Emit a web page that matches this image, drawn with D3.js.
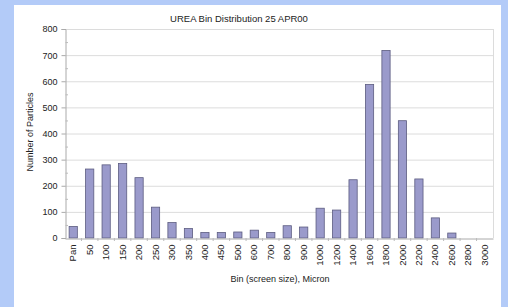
<!DOCTYPE html>
<html>
<head>
<meta charset="utf-8">
<script src="https://cdn.jsdelivr.net/npm/d3@7"></script>
<style>
  body { margin: 0; background: #b3cbf8; }
  svg { display: block; font-family: "Liberation Sans", Arial, sans-serif; }
</style>
</head>
<body>
<svg id="chart" width="508" height="307"></svg>
<script>
// bin labels and particle counts
const bins = ["Pan", "50", "100", "150", "200", "250", "300", "350", "400", "450", "500",
  "600", "700", "800", "900", "1000", "1200", "1400", "1600", "1800", "2000", "2200",
  "2400", "2600", "2800", "3000"];
const counts = [44, 264, 280, 285, 231, 118, 59, 36, 21, 21, 23,
  30, 21, 47, 42, 114, 107, 223, 588, 718, 449, 226,
  77, 19, 0, 0];
const yTicks = [0, 100, 200, 300, 400, 500, 600, 700, 800];

const svg = d3.select("#chart");

// white panel
svg.append("rect")
  .attr("x", 14).attr("y", 5)
  .attr("width", 487).attr("height", 302)
  .attr("fill", "#ffffff");

const margin = {left: 65, top: 29, right: 493, bottom: 238};

const x = d3.scaleBand()
  .domain(bins)
  .range([margin.left, margin.right])
  .paddingInner(0.5)
  .paddingOuter(0.25);

const y = d3.scaleLinear()
  .domain([0, 800])
  .range([margin.bottom, margin.top]);

// gridlines
svg.append("g")
  .selectAll("line")
  .data(yTicks.slice(1))
  .enter().append("line")
  .attr("x1", margin.left).attr("x2", margin.right)
  .attr("y1", d => y(d) + 0.5).attr("y2", d => y(d) + 0.5)
  .attr("stroke", "#dcdcdc").attr("stroke-width", 1);

// plot border (right side)
svg.append("line")
  .attr("x1", margin.right + 0.5).attr("x2", margin.right + 0.5)
  .attr("y1", margin.top).attr("y2", margin.bottom)
  .attr("stroke", "#dcdcdc");

// bars
svg.append("g")
  .selectAll("rect")
  .data(counts)
  .enter().append("rect")
  .attr("x", (d, i) => x(bins[i]))
  .attr("width", x.bandwidth())
  .attr("y", d => y(d))
  .attr("height", d => y(0) - y(d))
  .attr("fill", "#9a9acb")
  .attr("stroke", "#5c5c80")
  .attr("stroke-width", 0.8);

// y axis
const yAxis = svg.append("g")
  .attr("transform", "translate(" + (margin.left + 0.5) + ",0)")
  .call(d3.axisLeft(y).tickValues(yTicks).tickSize(4).tickPadding(4));
yAxis.select(".domain").attr("stroke", "#aaaaaa");
yAxis.selectAll(".tick line").attr("stroke", "#aaaaaa");
yAxis.selectAll("text").attr("font-size", 9).attr("fill", "#222");

// minor ticks on y axis
svg.append("g")
  .selectAll("line")
  .data(d3.range(50, 800, 100))
  .enter().append("line")
  .attr("x1", margin.left + 0.5).attr("x2", margin.left + 3)
  .attr("y1", d => y(d) + 0.5).attr("y2", d => y(d) + 0.5)
  .attr("stroke", "#bbbbbb");

// x axis
const xAxis = svg.append("g")
  .attr("transform", "translate(0," + (margin.bottom + 0.5) + ")")
  .call(d3.axisBottom(x).tickSize(0).tickPadding(4));
xAxis.select(".domain").attr("stroke", "#aaaaaa");
xAxis.selectAll("text")
  .attr("font-size", 9.5)
  .attr("fill", "#222")
  .attr("transform", "rotate(-90)")
  .attr("text-anchor", "end")
  .attr("dy", "0.32em")
  .attr("x", -6)
  .attr("y", 0);

// category separator ticks below axis
const step = x.step();
svg.append("g")
  .selectAll("line")
  .data(bins.slice(0, -1))
  .enter().append("line")
  .attr("x1", d => x(d) + x.bandwidth() / 2 + step / 2)
  .attr("x2", d => x(d) + x.bandwidth() / 2 + step / 2)
  .attr("y1", margin.bottom).attr("y2", margin.bottom + 3)
  .attr("stroke", "#bbbbbb");

// title
svg.append("text")
  .attr("x", 239).attr("y", 22)
  .attr("text-anchor", "middle")
  .attr("font-size", 9.5)
  .attr("fill", "#222")
  .text("UREA Bin Distribution 25 APR00");

// axis titles
svg.append("text")
  .attr("x", 280).attr("y", 282)
  .attr("text-anchor", "middle")
  .attr("font-size", 9)
  .attr("fill", "#222")
  .text("Bin (screen size), Micron");

svg.append("text")
  .attr("transform", "translate(33,132) rotate(-90)")
  .attr("text-anchor", "middle")
  .attr("font-size", 9)
  .attr("fill", "#222")
  .text("Number of Particles");
</script>
</body>
</html>
